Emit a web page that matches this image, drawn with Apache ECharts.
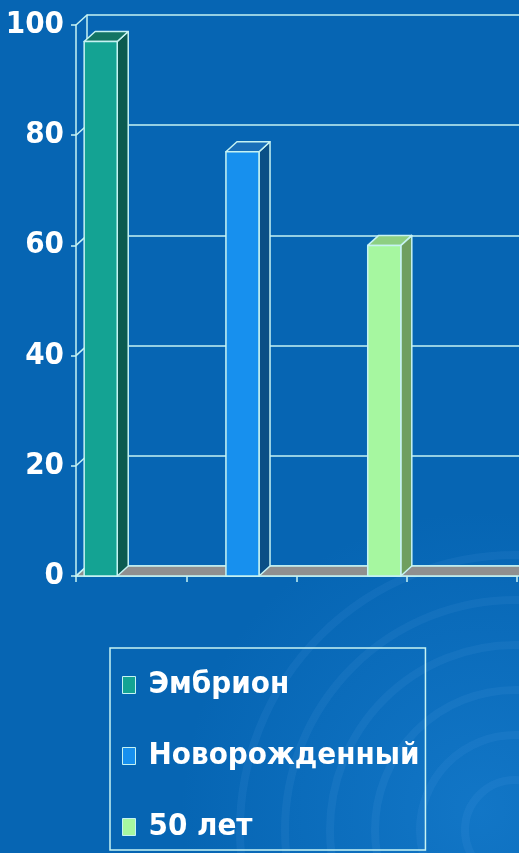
<!DOCTYPE html>
<html>
<head>
<meta charset="utf-8">
<script src="https://cdn.jsdelivr.net/npm/echarts@6/dist/echarts.min.js"></script>
<style>
html,body{margin:0;padding:0;background:#0665b3;}
#c{width:519px;height:853px;}
</style>
</head>
<body>
<div id="c"></div>
<script>
// ---- data ----
const categories = ['Эмбрион', 'Новорожденный', '50 лет'];
const values = [97, 77, 60];
const yTicks = [0, 20, 40, 60, 80, 100];

// ---- styles ----
const frontColors = ['#14a393', '#1790ee', '#a6f7a0'];
const sideColors = ['#0b5a50', '#0a4f86', '#6f9f5f'];
const topColors = ['#137463', '#1a6fb8', '#8dcf82'];
const lineCol = '#c6f3f3';
const FONT = '"DejaVu Sans Condensed", "Liberation Sans Narrow", sans-serif';
const DX = 11, DY = -10;

const chart = echarts.init(document.getElementById('c'), null, {renderer: 'canvas'});

function barRender(idx) {
  return function (params, api) {
    const cs = params.coordSys;
    const base = api.coord([0, 0]);
    const top = api.coord([0, api.value(1)]);
    const w = cs.width * 0.075;
    const x0 = cs.x + cs.width * (0.0185 + idx * 0.3215);
    const yT = top[1], yB = base[1];
    const st = {stroke: lineCol, lineWidth: 1.5, lineJoin: 'round'};
    return {
      type: 'group',
      children: [
        {type: 'polygon', shape: {points: [[x0 + w, yT], [x0 + w + DX, yT + DY], [x0 + w + DX, yB + DY], [x0 + w, yB]]},
          style: Object.assign({fill: sideColors[idx]}, st)},
        {type: 'polygon', shape: {points: [[x0, yT], [x0 + DX, yT + DY], [x0 + w + DX, yT + DY], [x0 + w, yT]]},
          style: Object.assign({fill: topColors[idx]}, st)},
        {type: 'rect', shape: {x: x0, y: yT, width: w, height: yB - yT},
          style: Object.assign({fill: frontColors[idx]}, st)}
      ]
    };
  };
}

const series = [];
// floor
series.push({
  type: 'custom', xAxisIndex: 0, yAxisIndex: 0, silent: true, z: 1,
  data: [[0, 0]],
  renderItem: function (params, api) {
    const cs = params.coordSys;
    const y0 = api.coord([0, 0])[1];
    const xr = cs.x + cs.width + 40;
    return {type: 'polygon', shape: {points: [[cs.x, y0], [cs.x + DX, y0 + DY], [xr, y0 + DY], [xr, y0]]},
      style: {fill: '#8f8f8f', stroke: lineCol, lineWidth: 1.5}};
  }
});
// side wall diagonals
series.push({
  type: 'custom', xAxisIndex: 0, yAxisIndex: 0, silent: true, z: 1,
  data: yTicks.map(v => [0, v]),
  renderItem: function (params, api) {
    const cs = params.coordSys;
    const y = api.coord([0, api.value(1)])[1];
    return {type: 'line', shape: {x1: cs.x, y1: y, x2: cs.x + DX, y2: y + DY},
      style: {stroke: lineCol, lineWidth: 1.5}};
  }
});
categories.forEach((name, i) => {
  series.push({
    name: name, type: 'custom', xAxisIndex: 0, yAxisIndex: 0, z: 3,
    itemStyle: {color: frontColors[i]},
    data: [[0, values[i]]],
    renderItem: barRender(i)
  });
});

const deco = [{
  type: 'circle', silent: true, z: -20,
  shape: {cx: 480, cy: 810, r: 300},
  style: {fill: {type: 'radial', x: 0.5, y: 0.5, r: 0.5,
    colorStops: [{offset: 0, color: 'rgba(40,150,235,0.35)'}, {offset: 1, color: 'rgba(40,150,235,0)'}]}}
}].concat([0, 1, 2, 3, 4, 5].map(k => ({
  type: 'circle', silent: true, z: -10,
  shape: {cx: 515, cy: 830, r: 50 + k * 45},
  style: {fill: 'none', stroke: 'rgba(140,200,255,0.07)', lineWidth: 8}
})));

chart.setOption({
  backgroundColor: '#0665b3',
  animation: false,
  graphic: deco,
  grid: [
    {left: 76, top: 25, width: 441, height: 551, outerBoundsMode: 'none', containLabel: false},
    {left: 87, top: 15, right: -30, height: 551, outerBoundsMode: 'none', containLabel: false}
  ],
  xAxis: [
    {type: 'value', gridIndex: 0, min: 0, max: 4, interval: 1,
      axisLine: {show: true, lineStyle: {color: lineCol, width: 1.5}},
      axisTick: {show: true, length: 6, lineStyle: {color: lineCol, width: 1.5}},
      axisLabel: {show: false}, splitLine: {show: false}},
    {type: 'value', gridIndex: 1, min: 0, max: 4, show: false}
  ],
  yAxis: [
    {type: 'value', gridIndex: 0, min: 0, max: 100, interval: 20,
      axisLine: {show: true, lineStyle: {color: lineCol, width: 1.5}},
      axisTick: {show: true, length: 5, lineStyle: {color: lineCol, width: 1.5}},
      axisLabel: {color: '#ffffff', fontFamily: FONT, fontWeight: 'bold', fontSize: 31, margin: 12},
      splitLine: {show: false}},
    {type: 'value', gridIndex: 1, min: 0, max: 100, interval: 20,
      axisLine: {show: true, lineStyle: {color: lineCol, width: 1.5}},
      axisTick: {show: false}, axisLabel: {show: false},
      splitLine: {show: true, lineStyle: {color: lineCol, width: 1.5}}}
  ],
  legend: {
    data: categories,
    orient: 'vertical',
    left: 110, top: 648,
    padding: [17, 6, 3, 12],
    borderColor: lineCol, borderWidth: 1.5,
    itemWidth: 13, itemHeight: 17, itemGap: 31,
    icon: 'rect',
    itemStyle: {borderColor: lineCol, borderWidth: 1},
    textStyle: {color: '#ffffff', fontFamily: FONT, fontWeight: 'bold', fontSize: 31, lineHeight: 40, padding: [0, 0, 0, 8]}
  },
  series: series
});
</script>
</body>
</html>
